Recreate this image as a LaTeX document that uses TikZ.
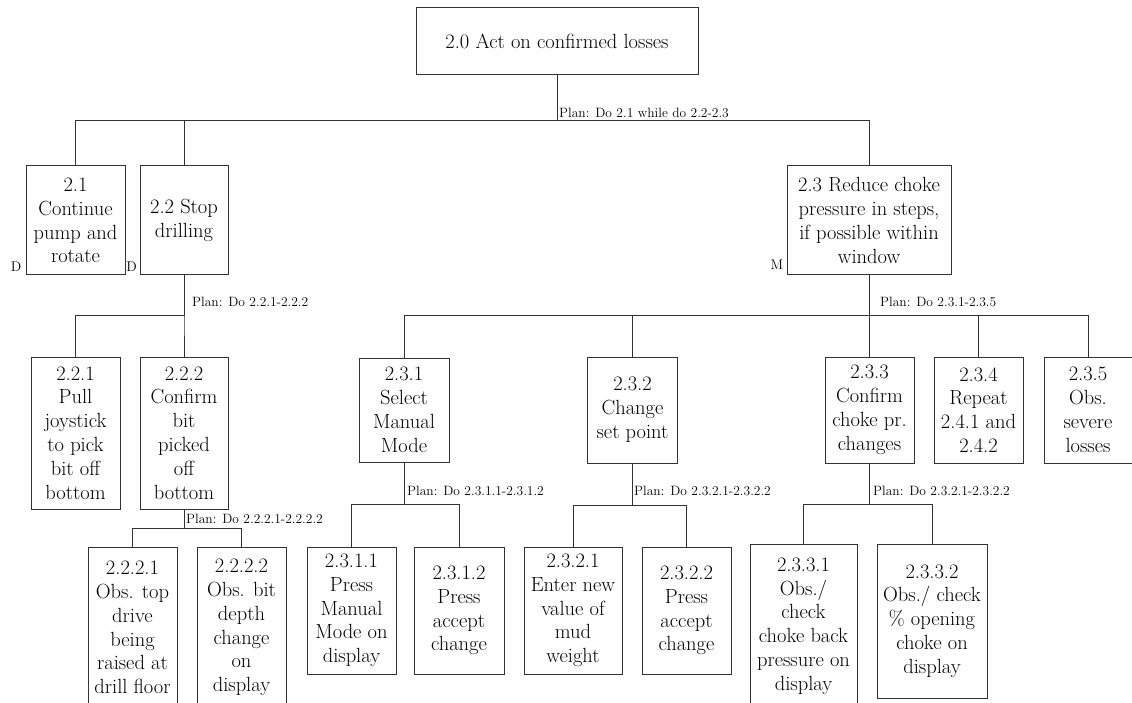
\documentclass[tikz,border=0pt]{standalone}
\usepackage{fontspec}
\tikzset{
  task/.style={draw=black!80, line width=1pt, align=center, inner sep=0pt,
    font=\rmfamily\fontsize{20.5}{23.8}\selectfont, text=black},
  link/.style={draw=black!80, line width=1pt},
  plan/.style={font=\rmfamily\fontsize{13.5}{16}\selectfont, anchor=west, inner sep=0pt, text=black},
  kind/.style={font=\rmfamily\fontsize{14}{16}\selectfont, inner sep=0pt, text=black}
}
% \taskbox{name}{centre x}{centre y}{width}{height}{text}
\newcommand\taskbox[6]{\node[task, minimum width=#4pt, minimum height=#5pt] (#1) at (#2,#3) {#6};}
\begin{document}
\begin{tikzpicture}[x=1pt,y=-1pt]
\useasboundingbox (0,0) rectangle (1132,703);
\clip (0,0) rectangle (1132,703);

% level 0 and 1
\taskbox{n20}{557}{41.5}{282}{67}{2.0 Act on confirmed losses}
\taskbox{n21}{75.5}{220.5}{99}{109}{2.1\\Continue\\pump and\\rotate}
\taskbox{n22}{184}{220.5}{88}{109}{2.2 Stop\\drilling}
\taskbox{n23}{869}{220.5}{164}{109}{2.3 Reduce choke\\pressure in steps,\\if possible within\\window}

% under 2.2
\taskbox{n221}{75.5}{433}{89}{152}{2.2.1\\Pull\\joystick\\to pick\\bit off\\bottom}
\taskbox{n222}{184}{433}{88}{152}{2.2.2\\Confirm\\bit\\picked\\off\\bottom}
\taskbox{n2221}{132.5}{627.5}{89}{161}{2.2.2.1\\Obs. top\\drive\\being\\raised at\\drill floor}
\taskbox{n2222}{241.5}{627.5}{89}{161}{2.2.2.2\\Obs. bit\\depth\\change\\on\\display}

% under 2.3
\taskbox{n231}{404}{410}{90}{104}{2.3.1\\Select\\Manual\\Mode}
\taskbox{n232}{632.5}{410}{90}{106}{2.3.2\\Change\\set point}
\taskbox{n233}{869.5}{410}{89}{106}{2.3.3\\Confirm\\choke pr.\\changes}
\taskbox{n234}{978.5}{410}{89}{106}{2.3.4\\Repeat\\2.4.1 and\\2.4.2}
\taskbox{n235}{1088}{410}{88}{106}{2.3.5\\Obs.\\severe\\losses}

\taskbox{n2311}{351.5}{610.5}{89}{127}{2.3.1.1\\Press\\Manual\\Mode on\\display}
\taskbox{n2312}{459}{610.5}{90}{127}{2.3.1.2\\Press\\accept\\change}
\taskbox{n2321}{573}{610.5}{98}{127}{2.3.2.1\\Enter new\\value of\\mud\\weight}
\taskbox{n2322}{686.5}{610.5}{89}{127}{2.3.2.2\\Press\\accept\\change}
\taskbox{n2331}{803.5}{626}{107}{164}{2.3.3.1\\Obs./\\check\\choke back\\pressure on\\display}
\taskbox{n2332}{932}{621}{110}{154}{2.3.3.2\\Obs./ check\\\% opening\\choke on\\display}

% bus levels
\coordinate (b20) at (0,121);
\coordinate (b22) at (0,315);
\coordinate (b23) at (0,315);
\coordinate (b222) at (0,528);
\coordinate (b231) at (0,504);
\coordinate (b232) at (0,505);
\coordinate (b233) at (0,504);

% connectors
\foreach \c in {n21,n22,n23}
  \draw[link] (n20.south) -- (n20.south |- b20) -| (\c.north);
\foreach \c in {n221,n222}
  \draw[link] (n22.south) -- (n22.south |- b22) -| (\c.north);
\foreach \c in {n2221,n2222}
  \draw[link] (n222.south) -- (n222.south |- b222) -| (\c.north);
\foreach \c in {n231,n232,n233,n234,n235}
  \draw[link] (n23.south) -- (n23.south |- b23) -| (\c.north);
\foreach \c in {n2311,n2312}
  \draw[link] (n231.south) -- (n231.south |- b231) -| (\c.north);
\foreach \c in {n2321,n2322}
  \draw[link] (n232.south) -- (n232.south |- b232) -| (\c.north);
\foreach \c in {n2331,n2332}
  \draw[link] (n233.south) -- (n233.south |- b233) -| (\c.north);

% plans
\node[plan] (p20) at (559,113) {Plan: Do 2.1 while do 2.2-2.3};
\node[plan] (p22) at (192,302) {Plan: Do 2.2.1-2.2.2};
\node[plan] (p222) at (186,519) {Plan: Do 2.2.2.1-2.2.2.2};
\node[plan] (p23) at (880,302) {Plan: Do 2.3.1-2.3.5};
\node[plan] (p231) at (407,491) {Plan: Do 2.3.1.1-2.3.1.2};
\node[plan] (p232) at (634,491) {Plan: Do 2.3.2.1-2.3.2.2};
\node[plan] (p233) at (873,491) {Plan: Do 2.3.2.1-2.3.2.2};

% task type markers
\node[kind] (k21) at (16,267) {D};
\node[kind] (k22) at (131.5,267) {D};
\node[kind] (k23) at (777,265) {M};
\end{tikzpicture}
\end{document}
